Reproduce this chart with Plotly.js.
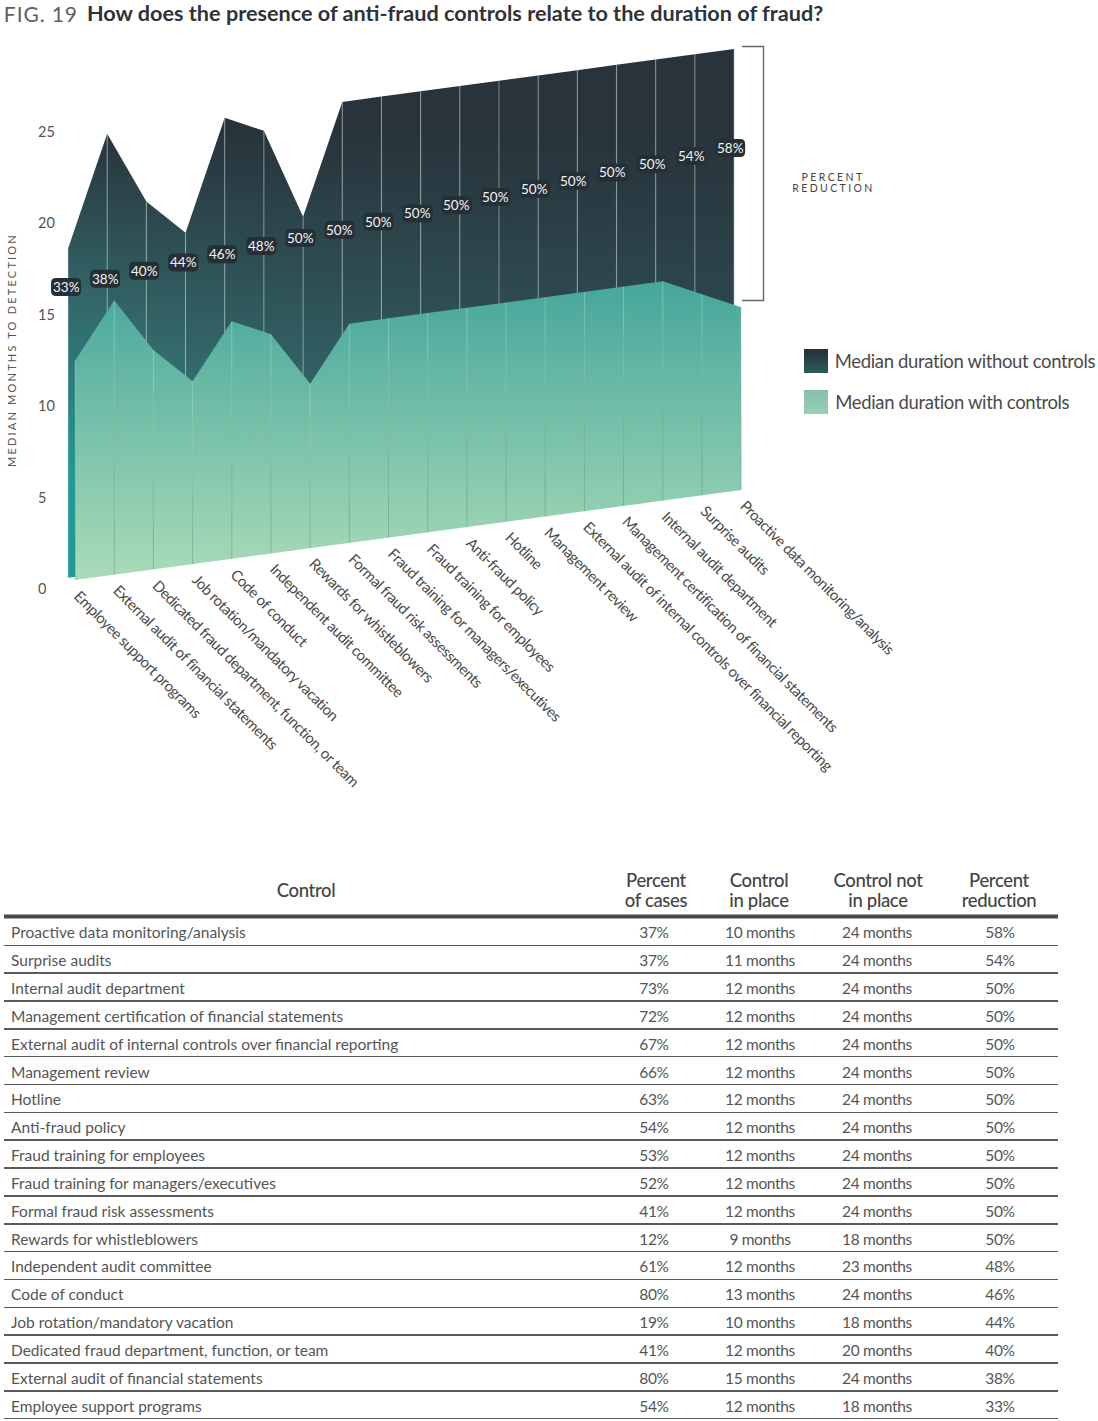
<!DOCTYPE html>
<html>
<head>
<meta charset="utf-8">
<script src="https://cdn.plot.ly/plotly-3.0.1.min.js"></script>
<style>
html,body{margin:0;padding:0;background:#fff}
.yaxislayer-above .ytick text{text-anchor:start !important}
.x2y2 .scatterlayer .trace:nth-child(n+2) text{letter-spacing:-0.35px}
.x2y2 .scatterlayer .trace:nth-child(1) text{letter-spacing:0}
.g-ytitle text{letter-spacing:2.2px}
</style>
</head>
<body>
<div id="chart" style="width:1098px;height:1421px"></div>
<script>
// ---- data, chart order ----
const controls = ["Employee support programs","External audit of financial statements","Dedicated fraud department, function, or team","Job rotation/mandatory vacation","Code of conduct","Independent audit committee","Rewards for whistleblowers","Formal fraud risk assessments","Fraud training for managers/executives","Fraud training for employees","Anti-fraud policy","Hotline","Management review","External audit of internal controls over financial reporting","Management certification of financial statements","Internal audit department","Surprise audits","Proactive data monitoring/analysis"];
const withoutControls = [18,24,20,18,24,23,18,24,24,24,24,24,24,24,24,24,24,24];
const withControls = [12,15,12,10,13,12,9,12,12,12,12,12,12,12,12,12,11,10];
const percentOfCases = [54,80,41,19,80,61,12,41,52,53,54,63,66,67,72,73,37,37];
const percentReduction = [33,38,40,44,46,48,50,50,50,50,50,50,50,50,50,50,54,58];
const yTicks = [0,5,10,15,20,25];
const headerTop = ["Percent","Control","Control not","Percent"];
const headerBottom = ["of cases","in place","in place","reduction"];

// ---- page geometry ----
const W = 1098, H = 1421;
const FONT = 'Lato, sans-serif';
const stepPx = 39.18, unitPx = 18.28, zeroPx = 589, firstX = 68;
const skew = 0.2895;              // rise of the slanted baseline per category
const darkBase = 0.62, lightBase = 0.49, lightShift = 0.18;
const n = controls.length, idx = controls.map((_, i) => i);
const py = p => (zeroPx - p) / unitPx;
const px = p => p / W, pyPaper = p => 1 - p / H;

const traces = [];
const dBase = i => darkBase + skew * i, lBase = i => lightBase + skew * i;

// dark area, one panel per interval
for (let i = 0; i < n - 1; i++) {
  const stopPx = 480 + 320 * i / 8.5;
  traces.push({
    x: [i, i + 1, i + 1, i, i], 
    y: [dBase(i) + withoutControls[i], dBase(i + 1) + withoutControls[i + 1], dBase(i + 1), dBase(i), dBase(i) + withoutControls[i]],
    mode: 'lines', fill: 'toself', line: {width: 0}, name: 'Median duration without controls',
    fillgradient: {type: 'vertical', start: py(130), stop: py(stopPx), colorscale: [[0, '#28333b'], [0.5, '#33686a'], [1, '#1f9a96']]},
    showlegend: false, hoverinfo: 'skip'
  });
}
// rules across the dark area
const dx = [], dy = [];
idx.forEach(i => { dx.push(i, i, null); dy.push(dBase(i), dBase(i) + withoutControls[i], null); });
traces.push({x: dx, y: dy, mode: 'lines', line: {width: 1.2, color: 'rgba(200,215,215,0.42)'}, showlegend: false, hoverinfo: 'skip'});

// light area
const lx = idx.map(i => i + lightShift), ly = idx.map(i => lBase(i) + withControls[i]);
traces.push({
  x: lx.concat(lx.slice().reverse(), [lx[0]]),
  y: ly.concat(idx.map(i => lBase(i)).reverse(), [ly[0]]),
  mode: 'lines', fill: 'toself', line: {width: 0}, name: 'Median duration with controls',
  fillgradient: {type: 'vertical', start: py(280), stop: py(585), colorscale: [[0, '#45a69b'], [1, '#acdcb8']]},
  showlegend: false, hoverinfo: 'skip'
});
// rules across the light area, banded from green at the foot to pale at the top
const ruleBands = [
  [0, 0.2, 'rgba(70,140,120,0.40)'],
  [0.2, 0.4, 'rgba(90,155,135,0.32)'],
  [0.4, 0.6, 'rgba(130,185,165,0.25)'],
  [0.6, 0.8, 'rgba(185,220,205,0.25)'],
  [0.8, 1, 'rgba(220,240,235,0.30)']
];
ruleBands.forEach(([from, to, color]) => {
  const bx = [], by = [];
  idx.forEach(i => {
    bx.push(lx[i], lx[i], null);
    by.push(lBase(i) + withControls[i] * from, lBase(i) + withControls[i] * to, null);
  });
  traces.push({x: bx, y: by, mode: 'lines', line: {width: 1, color}, showlegend: false, hoverinfo: 'skip'});
});

// ---- table ----
const rowPitch = 27.85, rowZero = 933;
const rows = idx.slice().reverse();
const rowY = rows.map((_, r) => r + 0.05);
const tableColumn = (xp, text, pos) => ({
  x: rows.map(() => xp), y: rowY, text, mode: 'text', textposition: pos, xaxis: 'x2', yaxis: 'y2',
  textfont: {family: FONT, size: 15.5, color: '#555'}, showlegend: false, hoverinfo: 'skip', cliponaxis: false
});
traces.push(tableColumn(11, rows.map(i => controls[i]), 'middle right'));
traces.push(tableColumn(654, rows.map(i => percentOfCases[i] + '%'), 'middle center'));
traces.push(tableColumn(760, rows.map(i => withControls[i] + ' months'), 'middle center'));
traces.push(tableColumn(877, rows.map(i => withoutControls[i] + ' months'), 'middle center'));
traces.push(tableColumn(1000, rows.map(i => percentReduction[i] + '%'), 'middle center'));
// header rows
const headX = [656, 759, 878, 999];
const headerLine = (xs, text, p) => ({
  x: xs, y: xs.map(() => (p - rowZero) / rowPitch), text, mode: 'text', textposition: 'middle center', xaxis: 'x2', yaxis: 'y2',
  textfont: {family: FONT, size: 18.5, color: '#444', weight: 500}, showlegend: false, hoverinfo: 'skip', cliponaxis: false
});
traces.push(headerLine([306], ['Control'], 892.5));
traces.push(headerLine(headX, headerTop, 882.5));
traces.push(headerLine(headX, headerBottom, 902.5));
// thick rule under the header
traces.push({
  x: [4, 1058], y: [(916.5 - rowZero) / rowPitch, (916.5 - rowZero) / rowPitch], mode: 'lines', xaxis: 'x2', yaxis: 'y2',
  line: {color: '#4a4a4a', width: 4}, showlegend: false, hoverinfo: 'skip'
});

// ---- decoration in page pixels: legend swatches and the bracket ----
traces.push({x: [804, 828, 828, 804, 804], y: [349, 349, 373, 373, 349], mode: 'lines', fill: 'toself', line: {width: 0}, xaxis: 'x3', yaxis: 'y3',
  fillgradient: {type: 'vertical', start: 349, stop: 373, colorscale: [[0, '#263139'], [1, '#2c5a5c']]}, showlegend: false, hoverinfo: 'skip'});
traces.push({x: [804, 828, 828, 804, 804], y: [390, 390, 414, 414, 390], mode: 'lines', fill: 'toself', line: {width: 0}, xaxis: 'x3', yaxis: 'y3',
  fillgradient: {type: 'vertical', start: 390, stop: 414, colorscale: [[0, '#82bfab'], [1, '#99cfb2']]}, showlegend: false, hoverinfo: 'skip'});
traces.push({x: [742, 763.5, 763.5, 742], y: [46.5, 46.5, 300.5, 300.5], mode: 'lines', xaxis: 'x3', yaxis: 'y3',
  line: {color: '#666', width: 1.4}, showlegend: false, hoverinfo: 'skip'});

// ---- annotations and badges ----
const annotations = [];
const shapes = [];
const css = [];
const addNote = (a, spacing) => { if (spacing !== undefined) css.push(`.annotation[data-index="${annotations.length}"] text{letter-spacing:${spacing}px}`); annotations.push(a); };
const badgeX = i => i - 0.05 - 0.05 * i / 17;
const badgeY = i => py(287) + 0.4475 * i;
idx.forEach(i => {
  shapes.push({
    type: 'path', xref: 'x', yref: 'y', xsizemode: 'pixel', ysizemode: 'pixel',
    xanchor: badgeX(i), yanchor: badgeY(i), layer: 'above', line: {width: 0}, fillcolor: '#262f36',
    path: 'M-10,-9 H10 Q15,-9 15,-4 V4 Q15,9 10,9 H-10 Q-15,9 -15,4 V-4 Q-15,-9 -10,-9 Z'
  });
  addNote({x: badgeX(i), y: badgeY(i), xref: 'x', yref: 'y', text: percentReduction[i] + '%', showarrow: false,
    font: {family: FONT, size: 13.5, color: '#f2f4f4'}, xanchor: 'center', yanchor: 'middle'});
  // tightened text sits centred in its measured box, so pull the start back along the diagonal
  const pull = 0.177 * controls[i].length - 1;
  addNote({x: i - 0.02 - pull / stepPx, y: skew * i + 0.35 + pull / unitPx, xref: 'x', yref: 'y', text: controls[i], showarrow: false, textangle: 45,
    font: {family: FONT, size: 15, color: '#4a4a4a'}, xanchor: 'left', yanchor: 'top'}, -0.5);
});
addNote({x: px(4.5), y: pyPaper(13), xref: 'paper', yref: 'paper', text: 'FIG. 19', showarrow: false,
  font: {family: FONT, size: 21, color: '#5a6066'}, xanchor: 'left', yanchor: 'middle'}, 0.9);
addNote({x: px(833), y: pyPaper(177), xref: 'paper', yref: 'paper', text: 'PERCENT', showarrow: false,
  font: {family: FONT, size: 10.5, color: '#444'}, xanchor: 'center', yanchor: 'middle'}, 2.4);
addNote({x: px(833), y: pyPaper(188), xref: 'paper', yref: 'paper', text: 'REDUCTION', showarrow: false,
  font: {family: FONT, size: 10.5, color: '#444'}, xanchor: 'center', yanchor: 'middle'}, 2.4);
addNote({x: px(827), y: pyPaper(361), xref: 'paper', yref: 'paper', text: 'Median duration without controls', showarrow: false,
  font: {family: FONT, size: 18.5, color: '#4a4a4a'}, xanchor: 'left', yanchor: 'middle'}, -0.35);
addNote({x: px(828), y: pyPaper(402), xref: 'paper', yref: 'paper', text: 'Median duration with controls', showarrow: false,
  font: {family: FONT, size: 18.5, color: '#4a4a4a'}, xanchor: 'left', yanchor: 'middle'}, -0.35);
const styleTag = document.createElement('style');
styleTag.textContent = css.join('\n');
document.head.appendChild(styleTag);

const ruleTicks = rows.map((_, r) => r + 0.44);
const layout = {
  width: W, height: H, margin: {l: 0, r: 0, t: 0, b: 0}, paper_bgcolor: '#fff', plot_bgcolor: 'rgba(0,0,0,0)',
  hovermode: false, showlegend: false, font: {family: FONT, color: '#555'},
  title: {text: 'How does the presence of anti-fraud controls relate to the duration of fraud?', x: px(87), xref: 'paper', xanchor: 'left',
    y: pyPaper(13), yref: 'paper', yanchor: 'middle', font: {family: FONT, size: 21.65, color: '#2f3338', weight: 700}},
  xaxis: {domain: [px(39), px(800)], range: [(39 - firstX) / stepPx, (800 - firstX) / stepPx], visible: false, fixedrange: true},
  yaxis: {domain: [pyPaper(660), pyPaper(40)], range: [py(660), py(40)], tickmode: 'array', tickvals: yTicks, ticktext: yTicks.map(String),
    showgrid: false, zeroline: false, showline: false, ticks: '', tickfont: {family: FONT, size: 14.5, color: '#555'}, fixedrange: true,
    title: {text: 'MEDIAN MONTHS TO DETECTION', standoff: 2, font: {family: FONT, size: 11, color: '#555'}}},
  xaxis2: {domain: [px(4), px(1058)], range: [4, 1058], anchor: 'y2', visible: false, fixedrange: true},
  yaxis2: {domain: [0, 1], range: [(H - rowZero) / rowPitch, -rowZero / rowPitch], anchor: 'x2', tickmode: 'array', tickvals: ruleTicks,
    showticklabels: false, ticks: '', showgrid: true, gridcolor: '#5a5a5a', gridwidth: 1.5, zeroline: false, showline: false, fixedrange: true},
  xaxis3: {domain: [0, 1], range: [0, W], anchor: 'y3', visible: false, fixedrange: true},
  yaxis3: {domain: [0, 1], range: [H, 0], anchor: 'x3', visible: false, fixedrange: true},
  annotations, shapes
};
Plotly.newPlot('chart', traces, layout, {displayModeBar: false, staticPlot: true});
</script>
</body>
</html>
